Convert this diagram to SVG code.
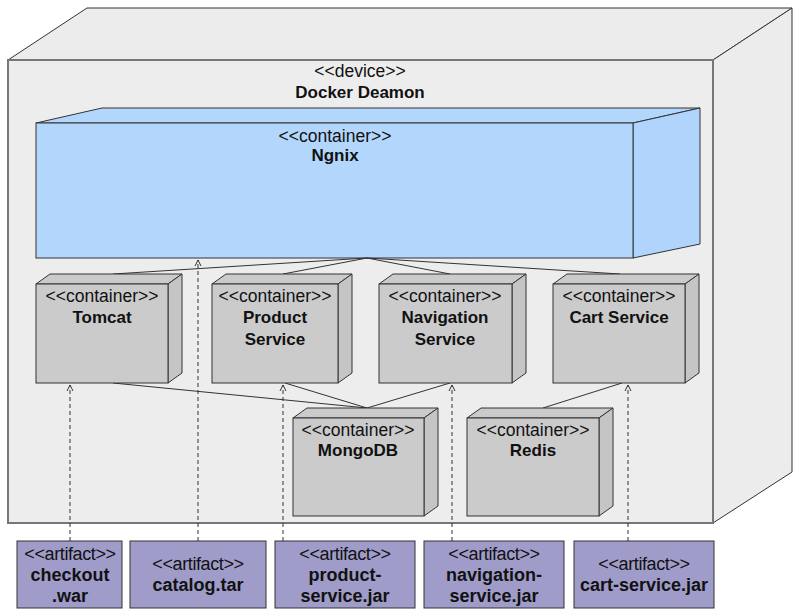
<svg xmlns="http://www.w3.org/2000/svg" width="800" height="616" viewBox="0 0 800 616">
<style>
.edge{stroke:#333;stroke-width:1;fill:none}
.dep{stroke:#333;stroke-width:1;fill:none;stroke-dasharray:4 3}
.dev{fill:#ececec;stroke:#333;stroke-width:1}
.devf{fill:#ededed;stroke:#777;stroke-width:2}
.ng{fill:#b3d6fc;stroke:#333;stroke-width:1}
.ngs{fill:#b0d4fb;stroke:#333;stroke-width:1}
.ct{fill:#cbcbcb;stroke:#333;stroke-width:1}
.cts{fill:#c5c5c5;stroke:#333;stroke-width:1}
.art{fill:#a09cc9;stroke:#333;stroke-width:1}
text{font-family:"Liberation Sans",Arial,Helvetica,sans-serif;fill:#111;text-anchor:middle}
.st{font-size:17.5px}
.nm{font-size:17px;font-weight:bold}
.ast{font-size:18px;letter-spacing:-0.4px}
.anm{font-size:18px;font-weight:bold}
</style>
<defs>
<marker id="arr" markerWidth="8" markerHeight="8" refX="7" refY="4" orient="auto" markerUnits="userSpaceOnUse">
<path d="M1,1 L7,4 L1,7" fill="none" stroke="#333" stroke-width="1"/>
</marker>
</defs>
<rect width="800" height="616" fill="#ffffff"/>
<g id="device">
<polygon class="dev" points="8,60 87,8 792,8 713,60"/>
<polygon class="dev" points="713,60 792,8 792,472 713,523"/>
<rect class="devf" x="8" y="60" width="705" height="463"/>
<text class="st" x="360" y="77">&lt;&lt;device&gt;&gt;</text>
<text class="nm" x="360" y="98">Docker Deamon</text>
</g>
<g id="ngnix">
<polygon class="ng" points="36,123 102,108 700,108 633,123"/>
<polygon class="ngs" points="633,123 700,108 700,244 633,258"/>
<rect class="ng" x="36" y="123" width="597" height="135"/>
<text class="st" x="335" y="142">&lt;&lt;container&gt;&gt;</text>
<text class="nm" x="335" y="161">Ngnix</text>
</g>
<g id="connectors">
<line class="edge" x1="367" y1="258" x2="113" y2="274"/>
<line class="edge" x1="367" y1="258" x2="283" y2="274"/>
<line class="edge" x1="367" y1="258" x2="450" y2="274"/>
<line class="edge" x1="367" y1="258" x2="620" y2="274"/>
<line class="edge" x1="367" y1="408" x2="113" y2="383"/>
<line class="edge" x1="367" y1="408" x2="285" y2="383"/>
<line class="edge" x1="367" y1="408" x2="450" y2="383"/>
<line class="edge" x1="543" y1="408" x2="622" y2="383"/>
<line class="dep" x1="70" y1="541" x2="70" y2="385" marker-end="url(#arr)"/>
<line class="dep" x1="198" y1="541" x2="198" y2="260" marker-end="url(#arr)"/>
<line class="dep" x1="283" y1="541" x2="283" y2="385" marker-end="url(#arr)"/>
<line class="dep" x1="452" y1="541" x2="452" y2="385" marker-end="url(#arr)"/>
<line class="dep" x1="628" y1="541" x2="628" y2="385" marker-end="url(#arr)"/>
</g>
<g id="tomcat">
<polygon class="ct" points="36,284 50,274 182,274 168,284"/>
<polygon class="cts" points="168,284 182,274 182,373 168,383"/>
<rect class="ct" x="36" y="284" width="132" height="99"/>
<text class="st" x="102" y="302">&lt;&lt;container&gt;&gt;</text>
<text class="nm" x="102" y="323">Tomcat</text>
</g>
<g id="product-service">
<polygon class="ct" points="212,284 226,274 352,274 338,284"/>
<polygon class="cts" points="338,284 352,274 352,373 338,383"/>
<rect class="ct" x="212" y="284" width="126" height="99"/>
<text class="st" x="275" y="302">&lt;&lt;container&gt;&gt;</text>
<text class="nm" x="275" y="323">Product</text>
<text class="nm" x="275" y="345">Service</text>
</g>
<g id="navigation-service">
<polygon class="ct" points="379,284 393,274 526,274 512,284"/>
<polygon class="cts" points="512,284 526,274 526,373 512,383"/>
<rect class="ct" x="379" y="284" width="133" height="99"/>
<text class="st" x="445" y="302">&lt;&lt;container&gt;&gt;</text>
<text class="nm" x="445" y="323">Navigation</text>
<text class="nm" x="445" y="345">Service</text>
</g>
<g id="cart-service">
<polygon class="ct" points="553,284 567,274 699,274 685,284"/>
<polygon class="cts" points="685,284 699,274 699,373 685,383"/>
<rect class="ct" x="553" y="284" width="132" height="99"/>
<text class="st" x="619" y="302">&lt;&lt;container&gt;&gt;</text>
<text class="nm" x="619" y="323">Cart Service</text>
</g>
<g id="mongodb">
<polygon class="ct" points="293,418 307,408 438,408 424,418"/>
<polygon class="cts" points="424,418 438,408 438,506 424,516"/>
<rect class="ct" x="293" y="418" width="131" height="98"/>
<text class="st" x="358" y="436">&lt;&lt;container&gt;&gt;</text>
<text class="nm" x="358" y="456">MongoDB</text>
</g>
<g id="redis">
<polygon class="ct" points="467,418 481,408 613,408 599,418"/>
<polygon class="cts" points="599,418 613,408 613,506 599,516"/>
<rect class="ct" x="467" y="418" width="132" height="98"/>
<text class="st" x="533" y="436">&lt;&lt;container&gt;&gt;</text>
<text class="nm" x="533" y="456">Redis</text>
</g>
<g id="checkout-war">
<rect class="art" x="17" y="541" width="105" height="67"/>
<text class="ast" x="70" y="560">&lt;&lt;artifact&gt;&gt;</text>
<text class="anm" x="70" y="581">checkout</text>
<text class="anm" x="70" y="602">.war</text>
</g>
<g id="catalog-tar">
<rect class="art" x="130" y="541" width="136" height="67"/>
<text class="ast" x="198" y="570">&lt;&lt;artifact&gt;&gt;</text>
<text class="anm" x="198" y="591">catalog.tar</text>
</g>
<g id="product-service-jar">
<rect class="art" x="275" y="541" width="140" height="67"/>
<text class="ast" x="345" y="560">&lt;&lt;artifact&gt;&gt;</text>
<text class="anm" x="345" y="581">product-</text>
<text class="anm" x="345" y="602">service.jar</text>
</g>
<g id="navigation-service-jar">
<rect class="art" x="424" y="541" width="140" height="67"/>
<text class="ast" x="494" y="560">&lt;&lt;artifact&gt;&gt;</text>
<text class="anm" x="494" y="581">navigation-</text>
<text class="anm" x="494" y="602">service.jar</text>
</g>
<g id="cart-service-jar">
<rect class="art" x="574" y="541" width="140" height="67"/>
<text class="ast" x="644" y="570">&lt;&lt;artifact&gt;&gt;</text>
<text class="anm" x="644" y="591">cart-service.jar</text>
</g>
</svg>
